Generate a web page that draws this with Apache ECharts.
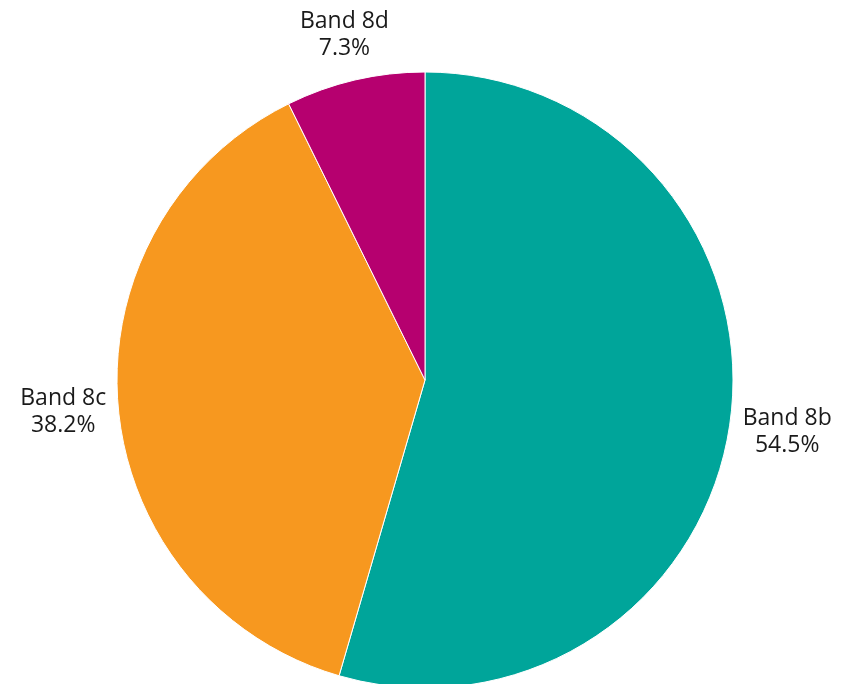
<!DOCTYPE html>
<html>
<head>
<meta charset="utf-8">
<script src="https://cdn.jsdelivr.net/npm/echarts@6/dist/echarts.min.js"></script>
<style>
  html, body { margin: 0; padding: 0; background: #ffffff; }
  #chart { width: 846px; height: 684px; }
</style>
</head>
<body>
<div id="chart"></div>
<script>
// Share of posts by pay band
const categories = ['Band 8b', 'Band 8c', 'Band 8d'];
const shares = [54.5, 38.2, 7.3];
const colors = ['#00A59A', '#F7981F', '#B6006F'];

const CENTER = [425, 380];
const RADIUS = 308;
const START_ANGLE = 90;
const LABEL_GAP = 10;

const total = shares.reduce((a, b) => a + b, 0);

// Mid-angle (radians, math convention) of each slice, going clockwise from the top
function midAngle(index) {
  let before = 0;
  for (let i = 0; i < index; i++) before += shares[i];
  const deg = START_ANGLE - (before + shares[index] / 2) / total * 360;
  return deg * Math.PI / 180;
}

const chart = echarts.init(document.getElementById('chart'), null, { renderer: 'canvas' });

chart.setOption({
  animation: false,
  series: [{
    type: 'pie',
    center: CENTER,
    radius: RADIUS,
    startAngle: START_ANGLE,
    clockwise: true,
    data: categories.map((name, i) => ({
      name: name,
      value: shares[i],
      itemStyle: { color: colors[i] }
    })),
    itemStyle: { borderColor: '#ffffff', borderWidth: 1 },
    label: {
      show: true,
      position: 'outside',
      formatter: p => p.name + '\n' + p.value.toFixed(1) + '%',
      fontFamily: '"Open Sans", "Noto Sans", sans-serif',
      fontSize: 23,
      lineHeight: 27,
      color: '#1a1a1a',
      align: 'center',
      overflow: 'none',
      width: null
    },
    labelLine: { show: false },
    // Place each label box just outside the rim, along its slice's mid-angle
    labelLayout: function (params) {
      const a = midAngle(params.dataIndex);
      const c = Math.cos(a), s = Math.sin(a);
      const w = params.labelRect.width, h = params.labelRect.height;
      const extent = Math.abs(c) * w / 2 + Math.abs(s) * h / 2;
      const d = RADIUS + LABEL_GAP + extent;
      return {
        x: CENTER[0] + c * d,
        y: CENTER[1] - s * d,
        align: 'center',
        verticalAlign: 'middle'
      };
    },
    emphasis: { disabled: true }
  }]
});
</script>
</body>
</html>
